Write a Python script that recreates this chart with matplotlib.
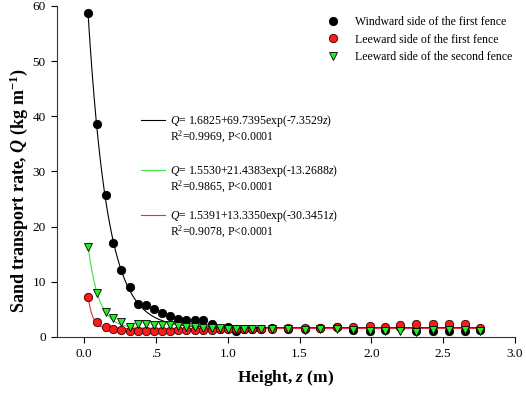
import matplotlib
matplotlib.use("Agg")
import matplotlib.pyplot as plt
import numpy as np

plt.rcParams['font.family'] = ['Liberation Serif', 'DejaVu Serif']
plt.rcParams['mathtext.fontset'] = 'custom'
plt.rcParams['mathtext.rm'] = 'Liberation Serif'
plt.rcParams['mathtext.it'] = 'Liberation Serif:italic'
plt.rcParams['mathtext.bf'] = 'Liberation Serif:bold'
plt.rcParams['mathtext.sf'] = 'Liberation Serif:bold:italic'

# sampling heights (m)
z = [0.028, 0.09, 0.15, 0.20, 0.26, 0.32, 0.375, 0.43, 0.49, 0.545, 0.60,
     0.655, 0.71, 0.77, 0.825, 0.889, 0.946, 1.004, 1.06, 1.115, 1.17, 1.229,
     1.31, 1.42, 1.535, 1.646, 1.76, 1.87, 1.99, 2.095, 2.20, 2.31, 2.43,
     2.54, 2.65, 2.76]

q_windward = [58.7, 38.6, 25.8, 17.0, 12.1, 9.1, 6.0, 5.8, 5.0, 4.3, 3.8,
              3.2, 3.1, 3.1, 3.0, 2.4, 1.45, 1.9, 1.0, 1.4, 1.5, 1.5,
              1.6, 1.5, 1.5, 1.6, 1.9, 1.2, 1.0, 1.3, 1.9, 1.0, 1.1,
              1.0, 1.0, 1.3]
q_leeward1 = [7.2, 2.65, 1.75, 1.45, 1.27, 1.15, 1.1, 1.1, 1.1, 1.1, 1.15,
              1.2, 1.25, 1.3, 1.3, 1.35, 1.4, 1.4, 1.45, 1.45, 1.5, 1.5,
              1.5, 1.6, 1.6, 1.6, 1.8, 1.9, 2.0, 1.8, 2.1, 2.35, 2.3,
              2.35, 2.35, 1.7]
q_leeward2 = [16.3, 8.0, 4.6, 3.4, 2.8, 1.9, 2.3, 2.3, 2.2, 2.2, 2.1,
              2.0, 1.9, 1.8, 1.7, 1.6, 1.6, 1.5, 1.5, 1.5, 1.5, 1.4,
              1.4, 1.4, 1.3, 1.4, 1.5, 1.3, 1.1, 1.1, 1.0, 0.9, 1.2,
              1.3, 1.2, 1.0]

# fitted Q = a + b*exp(c*z)
fit_windward = (1.6825, 69.7395, -7.3529)
fit_leeward2 = (1.5530, 21.4383, -13.2688)
fit_leeward1 = (1.5391, 13.3350, -30.3451)

eq_labels = [
    '$Q$= 1.6825+69.7395exp(-7.3529$z$)\nR$^2$=0.9969, P<0.0001',
    '$Q$= 1.5530+21.4383exp(-13.2688$z$)\nR$^2$=0.9865, P<0.0001',
    '$Q$= 1.5391+13.3350exp(-30.3451$z$)\nR$^2$=0.9078, P<0.0001',
]

x_ticks = [0.0, 0.5, 1.0, 1.5, 2.0, 2.5, 3.0]
x_tick_labels = ['0.0', '.5', '1.0', '1.5', '2.0', '2.5', '3.0']
y_ticks = [0, 10, 20, 30, 40, 50, 60]

fig = plt.figure(figsize=(5.26, 3.93), dpi=100)
ax = fig.add_axes([0.108, 0.1425, 0.871, 0.8425])

zz = np.linspace(z[0], z[-1], 400)
def fit_curve(p):
    return p[0] + p[1] * np.exp(p[2] * zz)

fit_colors = ['black', '#44dd44', '#e83030']
for p, c in zip([fit_windward, fit_leeward2, fit_leeward1], fit_colors):
    ax.plot(zz, fit_curve(p), color=c, lw=0.8, zorder=2)

ms = 6
p_w, = ax.plot(z, q_windward, 'o', color='black', mec='black', mew=0.6, ms=ms,
               ls='none', zorder=3, label='Windward side of the first fence')
p_1, = ax.plot(z, q_leeward1, 'o', color='#ff1a1a', mec='#300000', mew=0.6, ms=ms,
               ls='none', zorder=4, label='Leeward side of the first fence')
p_2, = ax.plot(z, q_leeward2, 'v', color='#22ee22', mec='black', mew=0.6, ms=ms,
               ls='none', zorder=5, label='Leeward side of the second fence')

ax.legend(handles=[p_w, p_1, p_2], loc='upper right',
          bbox_to_anchor=(1.01, 0.99), frameon=False, fontsize=8.5,
          handletextpad=1.3, labelspacing=0.45, borderaxespad=0.2,
          handlelength=1.2)

# equation annotations with short line samples (axes fraction)
eq_y = [0.656, 0.505, 0.369]
for lab, c, y in zip(eq_labels, fit_colors, eq_y):
    ax.plot([0.183, 0.236], [y, y], color=c, lw=0.8, transform=ax.transAxes)
    ax.text(0.247, y + 0.022, lab, transform=ax.transAxes, fontsize=8.5,
            ha='left', va='top', linespacing=1.0)

ax.set_xlim(-0.19, 3.0)
ax.set_ylim(0, 60)
ax.set_xticks(x_ticks)
ax.set_xticklabels(x_tick_labels)
ax.set_yticks(y_ticks)
ax.tick_params(direction='out', length=4, width=0.8, labelsize=9.5, pad=4)
for s in ['top', 'right']:
    ax.spines[s].set_visible(False)
for s in ['left', 'bottom']:
    ax.spines[s].set_linewidth(0.8)
    ax.spines[s].set_color('#333333')

ax.set_xlabel('Height, $\\mathsf{z}$ (m)', fontsize=12.5, fontweight='bold', labelpad=6)
ax.set_ylabel('Sand transport rate, $\\mathsf{Q}$ (kg m$^{\\mathbf{-1}}$)',
              fontsize=13, fontweight='bold')
ax.yaxis.set_label_coords(-0.059, 0.44)

fig.savefig('out.png', dpi=100)
